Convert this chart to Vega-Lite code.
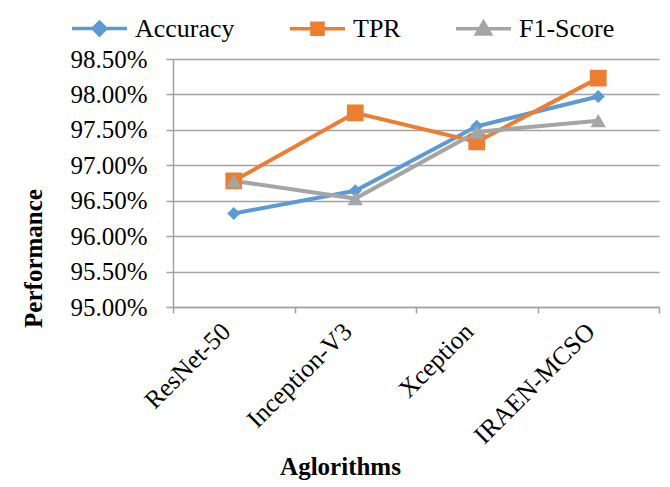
{
  "$schema": "https://vega.github.io/schema/vega-lite/v6.json",
  "width": 486,
  "height": 248,
  "autosize": "none",
  "padding": {"left": 173, "top": 59, "right": 11, "bottom": 180},
  "background": "white",
  "config": {
    "view": {"stroke": null},
    "font": "'Liberation Serif'",
    "axis": {
      "labelFont": "'Liberation Serif'",
      "titleFont": "'Liberation Serif'",
      "labelColor": "black",
      "titleColor": "black",
      "domainColor": "#a3a3a3",
      "tickColor": "#a3a3a3",
      "gridColor": "#a3a3a3",
      "domainWidth": 1.5,
      "tickWidth": 1.5,
      "gridWidth": 1.5
    }
  },
  "data": {
    "values": [
      {"model": "ResNet-50", "series": "Accuracy", "value": 0.9632},
      {"model": "Inception-V3", "series": "Accuracy", "value": 0.9664},
      {"model": "Xception", "series": "Accuracy", "value": 0.9755},
      {"model": "IRAEN-MCSO", "series": "Accuracy", "value": 0.9797},
      {"model": "ResNet-50", "series": "TPR", "value": 0.9678},
      {"model": "Inception-V3", "series": "TPR", "value": 0.9774},
      {"model": "Xception", "series": "TPR", "value": 0.9733},
      {"model": "IRAEN-MCSO", "series": "TPR", "value": 0.9823},
      {"model": "ResNet-50", "series": "F1-Score", "value": 0.9678},
      {"model": "Inception-V3", "series": "F1-Score", "value": 0.9653},
      {"model": "Xception", "series": "F1-Score", "value": 0.9747},
      {"model": "IRAEN-MCSO", "series": "F1-Score", "value": 0.9763}
    ]
  },
  "encoding": {
    "x": {
      "field": "model",
      "type": "nominal",
      "sort": ["ResNet-50", "Inception-V3", "Xception", "IRAEN-MCSO"],
      "scale": {"type": "band", "paddingInner": 0, "paddingOuter": 0},
      "axis": {
        "title": "Aglorithms",
        "titleFontSize": 25,
        "titleFontWeight": "bold",
        "titleX": 167,
        "titleY": 159,
        "titleBaseline": "middle",
        "titleAlign": "center",
        "labelFontSize": 25.5,
        "labelAngle": -45,
        "labelAlign": "right",
        "labelBaseline": "middle",
        "labelPadding": 14,
        "labelOffset": -8,
        "tickBand": "extent",
        "tickSize": 6,
        "grid": false
      }
    },
    "y": {
      "field": "value",
      "type": "quantitative",
      "scale": {"domain": [0.95, 0.985], "zero": false, "nice": false},
      "axis": {
        "title": "Performance",
        "titleFontSize": 25,
        "titleFontWeight": "bold",
        "titleX": -140,
        "titleY": 199,
        "titleAngle": -90,
        "titleAlign": "center",
        "titleBaseline": "middle",
        "values": [0.95, 0.955, 0.96, 0.965, 0.97, 0.975, 0.98, 0.985],
        "format": ".2%",
        "labelFontSize": 25,
        "labelPadding": 19,
        "tickSize": 7,
        "grid": true
      }
    }
  },
  "layer": [
    {
      "mark": {"type": "line", "strokeWidth": 4},
      "encoding": {
        "color": {
          "field": "series",
          "type": "nominal",
          "scale": {
            "domain": ["Accuracy", "TPR", "F1-Score"],
            "range": ["#5B9BD5", "#ED7D31", "#A5A5A5"]
          },
          "legend": {
            "title": null,
            "orient": "none",
            "direction": "horizontal",
            "legendX": -103,
            "legendY": -60,
            "padding": 0,
            "symbolSize": 3025,
            "symbolStrokeWidth": 3.5,
            "labelFont": "'Liberation Serif'",
            "labelFontSize": 26,
            "labelColor": "black",
            "labelOffset": 6,
            "columnPadding": 48,
            "encode": {
              "symbols": {
                "update": {
                  "shape": {
                    "signal": "datum.value === 'Accuracy' ? 'M-1,0L1,0M0,-0.23L0.23,0L0,0.23L-0.23,0Z' : datum.value === 'TPR' ? 'M-1,0L1,0M-0.2,-0.2L0.2,-0.2L0.2,0.2L-0.2,0.2Z' : 'M-1,0L1,0M0,-0.24L0.25,0.19L-0.25,0.19Z'"
                  },
                  "fill": {"signal": "scale('color', datum.value)"},
                  "stroke": {"signal": "scale('color', datum.value)"},
                  "strokeWidth": {"value": 3.5},
                  "opacity": {"value": 1}
                }
              }
            }
          }
        }
      }
    },
    {
      "transform": [{"filter": "datum.series === 'Accuracy'"}],
      "mark": {"type": "point", "shape": "diamond", "size": 170, "filled": true, "opacity": 1, "color": "#5B9BD5"}
    },
    {
      "transform": [{"filter": "datum.series === 'TPR'"}],
      "mark": {"type": "point", "shape": "square", "size": 280, "filled": true, "opacity": 1, "color": "#ED7D31"}
    },
    {
      "transform": [{"filter": "datum.series === 'F1-Score'"}],
      "mark": {"type": "point", "shape": "triangle-up", "size": 240, "filled": true, "opacity": 1, "color": "#A5A5A5"}
    }
  ]
}
